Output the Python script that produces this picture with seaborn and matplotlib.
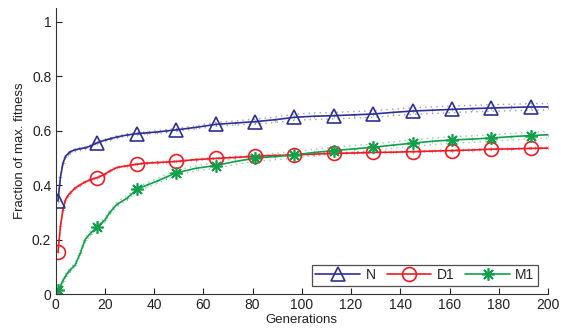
import numpy as np
import pandas as pd
import matplotlib
matplotlib.use("Agg")
import matplotlib.pyplot as plt
from matplotlib.lines import Line2D
import seaborn as sns

# Generations at which the averaged fitness curves are sampled
generations = [1, 2, 3, 4, 5, 6, 8, 10, 12, 14, 17, 20, 22, 25, 29, 33, 37, 41, 45, 49,
               57, 65, 73, 81, 89, 97, 105, 113, 121, 129, 137, 145, 153, 161, 169,
               177, 185, 193, 200]

# Mean fraction of maximal fitness per configuration
fit_N = [0.343, 0.430, 0.480, 0.505, 0.515, 0.523, 0.530, 0.534, 0.537, 0.543, 0.556,
         0.565, 0.570, 0.577, 0.584, 0.589, 0.592, 0.595, 0.599, 0.603, 0.612, 0.623,
         0.628, 0.633, 0.640, 0.649, 0.653, 0.655, 0.658, 0.661, 0.667, 0.672, 0.675,
         0.678, 0.681, 0.683, 0.685, 0.687, 0.687]
fit_D1 = [0.155, 0.250, 0.310, 0.345, 0.362, 0.372, 0.390, 0.401, 0.412, 0.420, 0.428,
          0.440, 0.452, 0.465, 0.471, 0.477, 0.481, 0.483, 0.485, 0.487, 0.494, 0.498,
          0.502, 0.506, 0.509, 0.511, 0.514, 0.517, 0.518, 0.520, 0.521, 0.523, 0.525,
          0.527, 0.529, 0.532, 0.533, 0.535, 0.536]
fit_M1 = [0.014, 0.030, 0.050, 0.066, 0.080, 0.090, 0.108, 0.150, 0.200, 0.222, 0.248,
          0.272, 0.300, 0.330, 0.352, 0.385, 0.400, 0.414, 0.430, 0.445, 0.462, 0.472,
          0.487, 0.499, 0.505, 0.511, 0.520, 0.527, 0.533, 0.539, 0.547, 0.554, 0.561,
          0.566, 0.569, 0.573, 0.578, 0.582, 0.585]

# Half-width of the confidence band around each mean curve
band_N = [0.002, 0.003, 0.003, 0.003, 0.003, 0.003, 0.003, 0.003, 0.003, 0.003, 0.003,
          0.003, 0.003, 0.004, 0.004, 0.004, 0.004, 0.005, 0.005, 0.005, 0.006, 0.007,
          0.008, 0.009, 0.010, 0.011, 0.012, 0.012, 0.012, 0.012, 0.012, 0.012, 0.012,
          0.012, 0.012, 0.012, 0.012, 0.012, 0.012]
band_D1 = [0.003, 0.004, 0.004, 0.003, 0.003, 0.003, 0.003, 0.003, 0.003, 0.003, 0.003,
           0.003, 0.003, 0.003, 0.003, 0.003, 0.003, 0.003, 0.003, 0.003, 0.003, 0.003,
           0.003, 0.003, 0.003, 0.003, 0.003, 0.003, 0.003, 0.003, 0.003, 0.003, 0.003,
           0.003, 0.003, 0.003, 0.003, 0.003, 0.003]
band_M1 = [0.003, 0.004, 0.005, 0.006, 0.006, 0.007, 0.007, 0.008, 0.008, 0.008, 0.008,
           0.008, 0.008, 0.008, 0.008, 0.008, 0.008, 0.009, 0.009, 0.009, 0.010, 0.010,
           0.011, 0.011, 0.012, 0.012, 0.012, 0.012, 0.012, 0.012, 0.012, 0.012, 0.012,
           0.012, 0.012, 0.012, 0.012, 0.012, 0.012]

series_names = ["N", "D1", "M1"]
marker_generations = [1, 17, 33, 49, 65, 81, 97, 113, 129, 145, 161, 177, 193]
x_ticks = [0, 20, 40, 60, 80, 100, 120, 140, 160, 180, 200]
y_ticks = [0, 0.2, 0.4, 0.6, 0.8, 1]
y_tick_labels = ["0", "0.2", "0.4", "0.6", "0.8", "1"]

colors = {"N": "#2e3192", "D1": "#ee1c25", "M1": "#0fa14a"}
markers = {"N": "^", "D1": "o", "M1": (8, 2, 0)}

sns.set_theme(style="white")
plt.rcParams["font.family"] = ["Liberation Sans", "DejaVu Sans"]

frames = []
for name, mean, band in zip(series_names, [fit_N, fit_D1, fit_M1],
                            [band_N, band_D1, band_M1]):
    frames.append(pd.DataFrame({
        "Generations": generations,
        "fitness": mean,
        "lower": np.array(mean) - np.array(band),
        "upper": np.array(mean) + np.array(band),
        "config": name,
    }))
df = pd.concat(frames, ignore_index=True)

fig = plt.figure(figsize=(5.61, 3.31), dpi=100)
ax = fig.add_axes([0.099, 0.111, 0.878, 0.865])

# Dotted confidence bounds
for bound in ["lower", "upper"]:
    sns.lineplot(data=df, x="Generations", y=bound, hue="config", palette=colors,
                 hue_order=series_names, ax=ax, legend=False, linewidth=1.0,
                 linestyle=(0, (1, 3)), alpha=0.5)

# Mean curves
sns.lineplot(data=df, x="Generations", y="fitness", hue="config", palette=colors,
             hue_order=series_names, ax=ax, legend=False, linewidth=1.2)

# Faint per-sample ticks along each curve
for name in series_names:
    s = df[df["config"] == name]
    ax.plot(s["Generations"], s["fitness"], linestyle="none", marker="+",
            markersize=3, markeredgewidth=0.6, color=colors[name], alpha=0.45)

# Large open markers every 16 generations
sub = df[df["Generations"].isin(marker_generations)]
for name in series_names:
    s = sub[sub["config"] == name]
    ax.plot(s["Generations"], s["fitness"], linestyle="none", marker=markers[name],
            markersize=10 if name != "M1" else 9, markerfacecolor="none",
            markeredgecolor=colors[name], markeredgewidth=1.2)

ax.set_xlim(0, 200)
ax.set_ylim(0, 1.05)
ax.set_xticks(x_ticks)
ax.set_yticks(y_ticks)
ax.set_yticklabels(y_tick_labels)
ax.tick_params(direction="in", length=4, width=0.8, colors="#222222",
               labelsize=10, pad=3, bottom=True, left=True)
ax.set_xlabel("Generations", fontsize=9.5, labelpad=1, color="#222222")
ax.set_ylabel("Fraction of max. fitness", fontsize=9.5, labelpad=4, color="#222222")
sns.despine(ax=ax)
for sp in ["left", "bottom"]:
    ax.spines[sp].set_color("#333333")
    ax.spines[sp].set_linewidth(0.8)

handles = [Line2D([], [], color=colors[n], linewidth=1.2, marker=markers[n],
                  markersize=10 if n != "M1" else 9, markerfacecolor="none",
                  markeredgewidth=1.2, markeredgecolor=colors[n]) for n in series_names]
leg = ax.legend(handles, series_names, ncol=3, loc="lower right",
                bbox_to_anchor=(0.985, 0.02), frameon=True, fancybox=False,
                fontsize=10, handlelength=3.2, handletextpad=0.4, columnspacing=0.8,
                borderpad=0.25, borderaxespad=0.2)
leg.get_frame().set_edgecolor("#222222")
leg.get_frame().set_linewidth(0.9)

fig.savefig("out.png", dpi=100)
